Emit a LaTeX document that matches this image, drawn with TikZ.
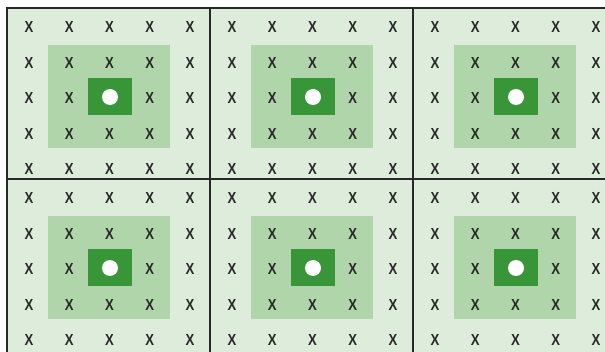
\documentclass[tikz,border=0pt]{standalone}
\usepackage{fontspec}
\setmainfont{Liberation Sans}
\definecolor{bgl}{RGB}{222,236,220}
\definecolor{midg}{RGB}{176,213,170}
\definecolor{darkg}{RGB}{56,150,56}
\definecolor{ink}{RGB}{40,40,40}
\begin{document}
\begin{tikzpicture}[x=1pt,y=-1pt,
  xmark/.style={font=\fontsize{16}{16}\selectfont\bfseries, text=ink, inner sep=0pt},
  gridline/.style={draw=ink, line width=1.4pt}]
\useasboundingbox (0,0) rectangle (605,352);
\clip (0,0) rectangle (605,352);
\fill[white] (0,0) rectangle (605,352);
\fill[bgl] (7,8) rectangle (616,353);
\foreach \i in {0,1,2} {
  \foreach \j in {0,1} {
    \pgfmathsetmacro\cx{7+203*\i}
    \pgfmathsetmacro\cy{8+171*\j}
    \begin{scope}[shift={(\cx,\cy)}]
      \fill[midg] (41,37) rectangle (163,140);
      \fill[darkg] (81,70) rectangle (125,107);
      \fill[white] (103,89) circle (8);
      \foreach \c in {0,...,4} {
        \foreach \r in {0,...,4} {
          \pgfmathtruncatemacro\skip{(\c==2)&&(\r==2)}
          \ifnum\skip=0
            \node[xmark] (x\i\j\c\r) at ({22+40.25*\c},{19+35.5*\r}) {\scalebox{0.82}[1]{X}};
          \fi
        }
      }
    \end{scope}
  }
}
\draw[gridline] (7,8) rectangle (616,353);
\draw[gridline] (210,8) -- (210,353);
\draw[gridline] (413,8) -- (413,353);
\draw[gridline] (7,179) -- (616,179);
\end{tikzpicture}
\end{document}
